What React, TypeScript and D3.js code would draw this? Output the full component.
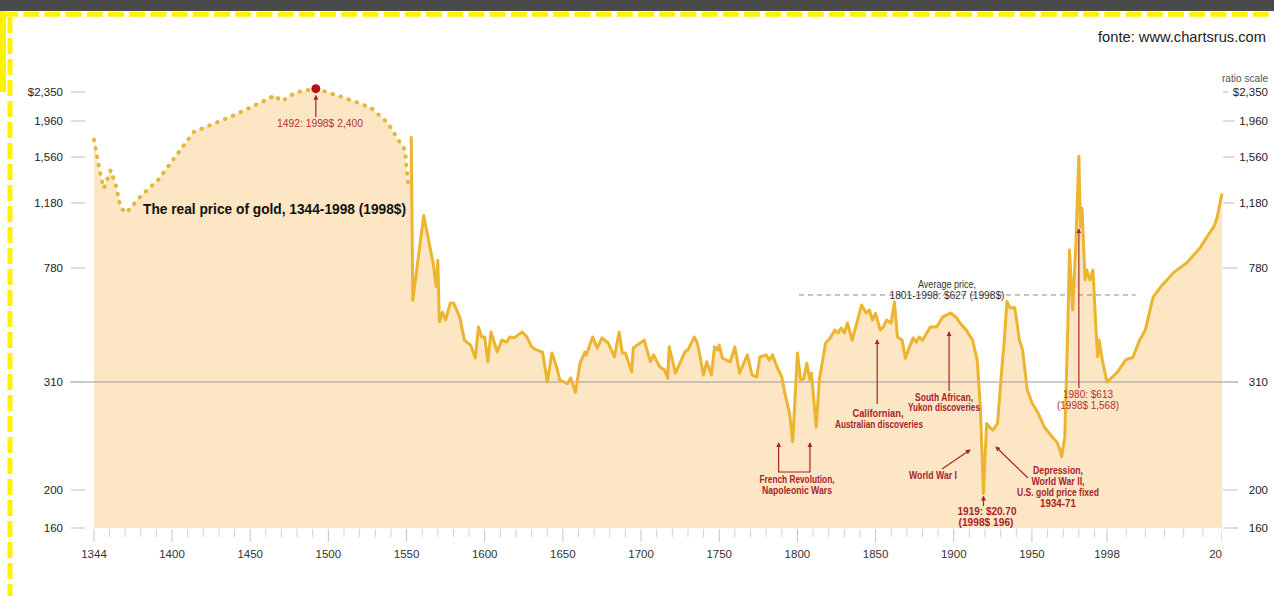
import React from 'react';
import * as d3 from 'd3';

// Real price of gold in 1998 dollars, [year, price]
// Early estimates (drawn dotted)
const earlyPrices: [number, number][] = [
  [1344, 1740], [1348, 1440], [1351, 1290], [1356, 1440], [1360, 1300], [1363, 1150],
  [1367, 1107], [1378, 1235], [1390, 1357], [1414, 1830], [1440, 2035], [1466, 2300],
  [1470, 2215], [1479, 2344], [1492, 2400], [1510, 2268], [1527, 2133], [1538, 1936],
  [1546, 1705], [1549, 1633], [1551, 1330],
];

// Continuous series (drawn solid)
const modernPrices: [number, number][] = [
  [1553, 1780], [1554, 600], [1561, 1090], [1567, 805], [1569, 670], [1570, 820],
  [1571, 505], [1573, 545], [1575, 512], [1578, 588], [1580, 588], [1584, 525],
  [1587, 435], [1591, 418], [1594, 376], [1596, 484], [1598, 446], [1600, 446],
  [1602, 365], [1604, 465], [1608, 395], [1611, 435], [1614, 428], [1616, 446],
  [1619, 444], [1624, 465], [1627, 446], [1630, 412], [1633, 402], [1637, 395],
  [1640, 310], [1643, 392], [1646, 350], [1648, 315], [1653, 308], [1655, 320],
  [1658, 297], [1661, 361], [1664, 395], [1665, 386], [1669, 446], [1672, 408],
  [1675, 443], [1679, 425], [1683, 380], [1686, 465], [1688, 392], [1690, 392],
  [1694, 336], [1695, 408], [1702, 435], [1706, 365], [1708, 386], [1712, 350],
  [1715, 342], [1717, 320], [1718, 412], [1722, 333], [1728, 395], [1730, 402],
  [1734, 446], [1736, 425], [1740, 328], [1742, 365], [1745, 328], [1747, 412],
  [1749, 402], [1750, 418], [1752, 376], [1757, 365], [1760, 412], [1763, 333],
  [1768, 386], [1771, 328], [1774, 323], [1776, 380], [1780, 386], [1782, 370],
  [1784, 386], [1787, 350], [1790, 323], [1792, 296], [1794, 280], [1795, 273],
  [1797, 243], [1800, 392], [1802, 315], [1804, 318], [1806, 361], [1808, 315],
  [1809, 333], [1812, 258], [1814, 315], [1818, 425], [1821, 443], [1824, 472],
  [1826, 461], [1828, 480], [1830, 461], [1832, 500], [1835, 435], [1838, 500],
  [1841, 578], [1844, 542], [1846, 555], [1848, 512], [1850, 540], [1853, 472],
  [1855, 484], [1857, 512], [1860, 500], [1862, 592], [1864, 446], [1867, 435],
  [1869, 376], [1871, 402], [1874, 443], [1876, 428], [1878, 446], [1880, 435],
  [1885, 484], [1889, 484], [1893, 525], [1898, 542], [1902, 520], [1904, 500],
  [1908, 472], [1912, 435], [1915, 370], [1917, 280], [1919, 196], [1921, 262],
  [1923, 258], [1925, 255], [1928, 262], [1931, 361], [1932, 412], [1934, 595],
  [1936, 565], [1939, 565], [1942, 435], [1944, 402], [1947, 300], [1950, 285],
  [1954, 273], [1958, 258], [1963, 248], [1966, 243], [1968, 235], [1969, 229],
  [1971, 248], [1973, 500], [1974, 875], [1976, 555], [1978, 892], [1980, 1568],
  [1981, 1013], [1982, 1142], [1984, 708], [1985, 767], [1987, 708], [1989, 767],
  [1991, 472], [1992, 380], [1993, 435], [1995, 370], [1998, 310], [1999, 333],
  [2000, 372], [2000.7, 378], [2001.4, 435], [2002, 472], [2002.8, 615], [2003.6, 670],
  [2004.3, 710], [2004.9, 750], [2005.6, 780], [2006.3, 805], [2007, 845], [2007.7, 886],
  [2008.2, 930], [2008.7, 975], [2009.2, 1020], [2009.5, 1079], [2010, 1250],
];

const yTickValues = [160, 200, 310, 780, 1180, 1560, 1960, 2350];
const yTickLabels = ['160', '200', '310', '780', '1,180', '1,560', '1,960', '$2,350'];
const xMajorTicks = [1344, 1400, 1450, 1500, 1550, 1600, 1650, 1700, 1750, 1800, 1850, 1900, 1950, 1998, 2010];
const xMajorLabels = ['1344', '1400', '1450', '1500', '1550', '1600', '1650', '1700', '1750', '1800', '1850', '1900', '1950', '1998', '2010'];

const averagePrice = 627;
const averageSpan: [number, number] = [1801, 2001];
const peak1492: [number, number] = [1492, 2400];
const low1919: [number, number] = [1919, 196];
const peak1980: [number, number] = [1980, 1568];

const W = 1274;
const H = 596;

const SANS = "'Liberation Sans', Arial, sans-serif";

const GOLD = '#EDB52F';
const DOTS = '#E4B63E';
const FILL = '#FDE6C3';
const RED = '#A8232E';
const YELLOW = '#FFF200';

// x: compressed first segment, linear 1400-1998, stretched tail to 2010
const x = d3.scaleLinear().domain([1344, 1400, 1998, 2010]).range([94, 172, 1107, 1222]);
// ratio scale anchored on the labelled ticks
const y = d3.scaleLog().domain(yTickValues).range([528, 490, 382, 268, 203, 157, 121, 92]);

const minorTicks = [
  ...d3.range(1, 5).map((i) => 1344 + (i * 56) / 5),
  ...d3.range(1410, 1998, 10).filter((v) => v % 50 !== 0),
  ...d3.range(2000, 2010, 2),
];

type TProps = {
  x: number;
  y: number;
  w: number;
  size?: number;
  bold?: boolean;
  fill?: string;
  anchor?: 'start' | 'middle' | 'end';
  children: React.ReactNode;
};

// condensed text: fitted to a set width
function T({ x, y, w, size = 10, bold = false, fill = RED, anchor = 'middle', children }: TProps) {
  return (
    <text x={x} y={y} textAnchor={anchor} fontFamily={SANS} fontSize={size}
      fontWeight={bold ? 700 : 400} fill={fill} textLength={w} lengthAdjust="spacingAndGlyphs">
      {children}
    </text>
  );
}

export default function App() {
  const base = y(160);
  const all = [...earlyPrices, ...modernPrices];
  const area = d3
    .area<[number, number]>()
    .x((d) => x(d[0]))
    .y0(base)
    .y1((d) => y(d[1]))(all) as string;
  const line = d3
    .line<[number, number]>()
    .x((d) => x(d[0]))
    .y((d) => y(d[1]));
  const early = line(earlyPrices) as string;
  const modern = line(modernPrices) as string;

  const px = x(peak1492[0]);
  const py = y(peak1492[1]);
  const x1919 = x(low1919[0]);
  const y1919 = y(low1919[1]);
  const x1980 = x(peak1980[0]);
  const y310 = y(310);
  const yAvg = y(averagePrice);

  const arrow = { stroke: RED, strokeWidth: 1.2, fill: 'none', markerEnd: 'url(#ah)' } as const;
  const RED2 = '#B3303A';

  return (
    <svg width={W} height={H} style={{ position: 'absolute', left: 0, top: 0, background: '#fff' }}>
      <defs>
        <marker id="ah" viewBox="0 0 6 6" refX="5" refY="3" markerWidth="5" markerHeight="5"
          orient="auto-start-reverse" markerUnits="userSpaceOnUse">
          <path d="M0,0L6,3L0,6z" fill={RED} />
        </marker>
        <clipPath id="plotclip">
          <rect x={0} y={0} width={x(2010)} height={H} />
        </clipPath>
      </defs>

      {/* frame */}
      <rect x={0} y={0} width={W} height={11} fill="#4a4a4a" />
      <line x1={2} x2={W} y1={14.2} y2={14.2} stroke={YELLOW} strokeWidth={5} strokeDasharray="16 5.2" />
      <rect x={0} y={11} width={6} height={81} fill={YELLOW} />
      <line x1={10} x2={10} y1={17} y2={H} stroke={YELLOW} strokeWidth={5} strokeDasharray="16 5" />

      <T x={1098} y={42} w={168} size={15} fill="#222" anchor="start">fonte: www.chartsrus.com</T>

      {/* area under price */}
      <path d={area} fill={FILL} />

      {/* reference line at 310 */}
      <line x1={70} x2={1238} y1={y310} y2={y310} stroke="#9a9a9a" strokeWidth={1} />

      {/* average price 1801-1998 */}
      <line x1={x(averageSpan[0])} x2={x(averageSpan[1])} y1={yAvg} y2={yAvg}
        stroke="#8a8a8a" strokeWidth={1} strokeDasharray="5 4" />
      <T x={947} y={288} w={58} fill="#333">Average price,</T>
      <T x={947} y={299} w={115} fill="#333">1801-1998: $627 (1998$)</T>

      {/* price lines */}
      <path d={early} fill="none" stroke={DOTS} strokeWidth={4} strokeDasharray="0.5 8" strokeLinecap="round" />
      <path d={modern} fill="none" stroke={GOLD} strokeWidth={3} strokeLinejoin="round" />

      {/* left axis */}
      {yTickValues.map((v, i) => (
        <g key={`l${v}`}>
          <line x1={71} x2={85} y1={y(v)} y2={y(v)} stroke="#bdbdbd" strokeWidth={1} />
          <text x={63} y={y(v) + 4} textAnchor="end" fontFamily={SANS} fontSize={11.5} fill="#222">
            {yTickLabels[i]}
          </text>
        </g>
      ))}

      {/* right axis */}
      <T x={1268} y={82} w={46} fill="#555" anchor="end">ratio scale</T>
      {yTickValues.map((v, i) => (
        <g key={`r${v}`}>
          <line x1={1223} x2={Math.min(1238, 1266 - yTickLabels[i].length * 6.3)} y1={y(v)} y2={y(v)}
            stroke="#bdbdbd" strokeWidth={1} />
          <text x={1268} y={y(v) + 4} textAnchor="end" fontFamily={SANS} fontSize={11.5} fill="#222">
            {yTickLabels[i]}
          </text>
        </g>
      ))}

      {/* bottom axis */}
      {minorTicks.map((t) => (
        <line key={`m${t}`} x1={x(t)} x2={x(t)} y1={base + 1} y2={base + 9} stroke="#cfcfcf" strokeWidth={1} />
      ))}
      <g clipPath="url(#plotclip)">
        {xMajorTicks.map((t, i) => (
          <g key={`M${t}`}>
            <line x1={x(t)} x2={x(t)} y1={base + 1} y2={base + 14} stroke="#c4c4c4" strokeWidth={1} />
            <text x={x(t)} y={558} textAnchor="middle" fontFamily={SANS} fontSize={11.5} fill="#333">
              {xMajorLabels[i]}
            </text>
          </g>
        ))}
      </g>

      {/* title */}
      <T x={143} y={214} w={263} size={14.5} bold fill="#111" anchor="start">
        The real price of gold, 1344-1998 (1998$)
      </T>

      {/* 1492 peak */}
      <line x1={px} x2={px} y1={117} y2={py + 7} {...arrow} />
      <circle cx={px} cy={py} r={4.5} fill="#B5121B" />
      <T x={320} y={127} w={86} size={10.5} fill={RED2}>1492: 1998$ 2,400</T>

      {/* French Revolution */}
      <path d={`M${x(1788)},443 L${x(1788)},472 L${x(1808)},472 L${x(1808)},443`}
        stroke={RED} strokeWidth={1.2} fill="none" markerStart="url(#ah)" markerEnd="url(#ah)" />
      <T x={797} y={483} w={75} bold>French Revolution,</T>
      <T x={797} y={494} w={70} bold>Napoleonic Wars</T>

      {/* Californian */}
      <line x1={x(1851)} x2={x(1851)} y1={404} y2={340} {...arrow} />
      <T x={878} y={417} w={51} bold>Californian,</T>
      <T x={879} y={428} w={88} bold>Australian discoveries</T>

      {/* South African */}
      <line x1={x(1897)} x2={x(1897)} y1={391} y2={332} {...arrow} />
      <T x={944} y={401} w={58} bold>South African,</T>
      <T x={944} y={411} w={72} bold>Yukon discoveries</T>

      {/* World War I */}
      <line x1={942} x2={970} y1={469} y2={450} {...arrow} />
      <T x={933} y={479} w={48} bold>World War I</T>

      {/* 1919 low */}
      <line x1={x1919} x2={x1919} y1={506} y2={y1919 + 3} {...arrow} />
      <T x={987} y={515} w={59} bold>1919: $20.70</T>
      <T x={986} y={526} w={55} bold>(1998$ 196)</T>

      {/* Depression */}
      <line x1={1028} x2={996} y1={478} y2={447} {...arrow} />
      <T x={1058} y={474} w={50} bold>Depression,</T>
      <T x={1058} y={485} w={53} bold>World War II,</T>
      <T x={1058} y={496} w={82} bold>U.S. gold price fixed</T>
      <T x={1058} y={507} w={36} bold>1934-71</T>

      {/* 1980 peak */}
      <line x1={x1980} x2={x1980} y1={388} y2={229} {...arrow} />
      <T x={1088} y={398} w={50} size={10.5} fill={RED2}>1980: $613</T>
      <T x={1088} y={409} w={62} size={10.5} fill={RED2}>(1998$ 1,568)</T>
    </svg>
  );
}
